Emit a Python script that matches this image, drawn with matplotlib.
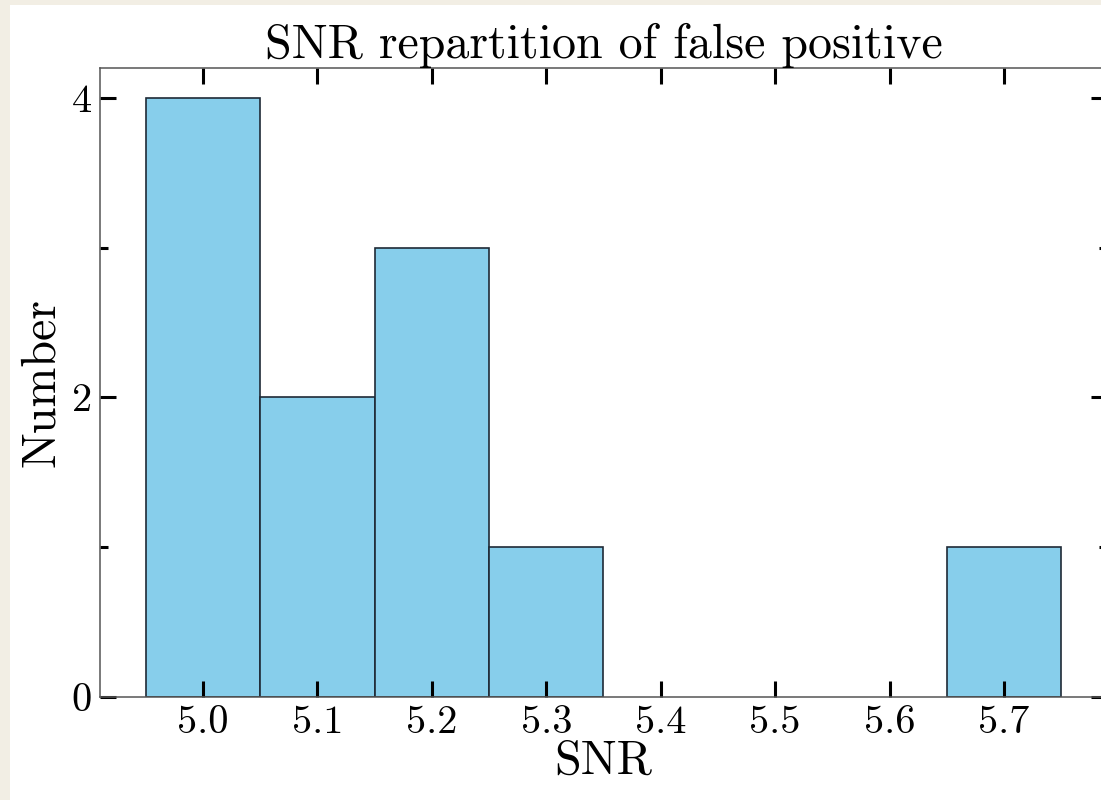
import matplotlib
matplotlib.use("Agg")
import matplotlib.pyplot as plt
from matplotlib.patches import Rectangle
from matplotlib.ticker import FixedLocator

# Histogram of false-positive detections per SNR bin
bin_centers = [5.0, 5.1, 5.2, 5.3, 5.4, 5.5, 5.6, 5.7]
counts = [4, 2, 3, 1, 0, 0, 0, 1]
bin_width = 0.1
x_tick_labels = ["5.0", "5.1", "5.2", "5.3", "5.4", "5.5", "5.6", "5.7"]
y_ticks = [0, 2, 4]
y_minor_ticks = [1, 3]

plt.rcParams["font.family"] = "cmr10"
plt.rcParams["mathtext.fontset"] = "cm"
plt.rcParams["axes.formatter.use_mathtext"] = True

W, H = 1101, 800
cream = "#f2eee4"
fig = plt.figure(figsize=(W / 100, H / 100), dpi=100, facecolor="white")
# page border strips on the left and top
fig.add_artist(Rectangle((0, 0), 10 / W, 1, transform=fig.transFigure,
                         facecolor=cream, edgecolor="none", zorder=-5))
fig.add_artist(Rectangle((0, 1 - 5 / H), 1, 5 / H, transform=fig.transFigure,
                         facecolor=cream, edgecolor="none", zorder=-5))

ax = fig.add_axes([100 / W, 103 / H, 1007 / W, 629 / H])
ax.set_facecolor("white")

xs = [c for c, n in zip(bin_centers, counts) if n > 0]
hs = [n for n in counts if n > 0]
ax.bar(xs, hs, width=bin_width, color="#87ceeb", edgecolor="#1f2a36",
       linewidth=1.2, align="center")

ax.set_xlim(4.91, 5.79)
ax.set_ylim(0, 4.2)

ax.set_xticks(bin_centers)
ax.set_xticklabels(x_tick_labels)
ax.set_yticks(y_ticks)
ax.set_yticklabels([str(t) for t in y_ticks])
ax.yaxis.set_minor_locator(FixedLocator(y_minor_ticks))

ax.tick_params(axis="both", which="major", direction="in", length=11.5,
               width=2.2, color="black", labelsize=29, pad=6,
               top=True, right=True)
ax.tick_params(axis="y", which="minor", direction="in", length=5.8,
               width=2.2, color="black", left=True, right=True)
ax.tick_params(axis="x", which="minor", bottom=False, top=False)

for s in ax.spines.values():
    s.set_color("#555555")
    s.set_linewidth(1.1)

ax.set_title("SNR repartition of false positive", fontsize=34.5, pad=7)
ax.set_xlabel("SNR", fontsize=34.5, labelpad=-1)
ax.set_ylabel("Number", fontsize=34.5, labelpad=5)

fig.savefig("out.png", dpi=100, facecolor=fig.get_facecolor())
